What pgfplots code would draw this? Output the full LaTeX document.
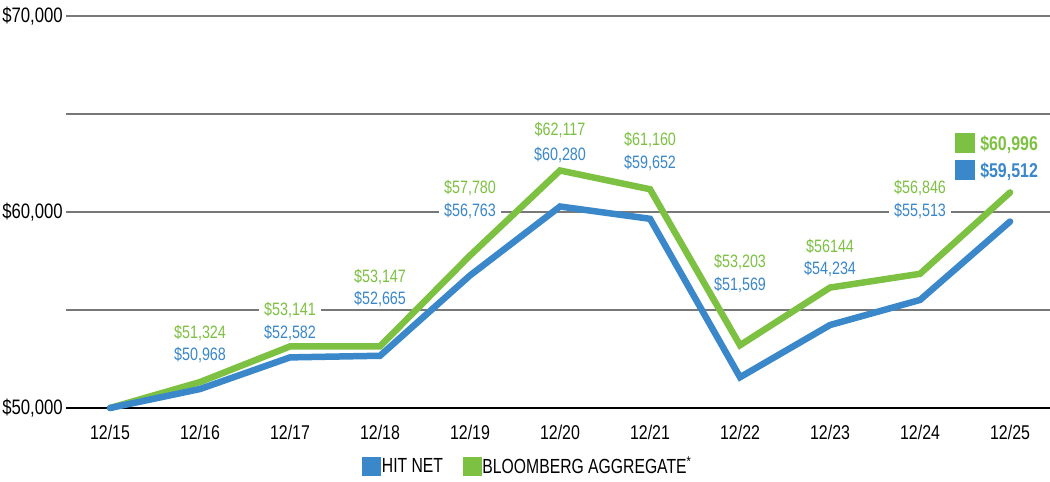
\documentclass[border=0pt]{standalone}
\usepackage{pgfplots}
\pgfplotsset{compat=1.18}
\usepackage{fontspec}
\setmainfont[FakeStretch=0.8]{Liberation Sans}
\newfontfamily\legfont[FakeStretch=0.77]{Liberation Sans}
\definecolor{cgreen}{RGB}{125,193,66}
\definecolor{cblue}{RGB}{58,135,201}
\definecolor{cgrid}{RGB}{120,120,120}
\begin{document}
\begin{tikzpicture}
\useasboundingbox (0,0) rectangle (1050bp,482bp);
\begin{axis}[
  at={(66bp,74bp)}, anchor=south west,
  scale only axis, width=984bp, height=392bp,
  xmin=-0.489, xmax=10.444, ymin=50000, ymax=70000,
  scaled y ticks=false,
  clip=false,
  axis line style={draw=none},
  major tick length=0pt, minor tick length=0pt,
  tick style={draw=none},
  xtick={0,...,10},
  xticklabels={12/15,12/16,12/17,12/18,12/19,12/20,12/21,12/22,12/23,12/24,12/25},
  ytick={50000,60000,70000},
  yticklabels={{\$50,000},{\$60,000},{\$70,000}},
  minor ytick={55000,65000},
  ymajorgrids, yminorgrids,
  major grid style={cgrid, line width=1.8bp},
  minor grid style={cgrid, line width=1.8bp},
  yticklabel style={font=\fontsize{21}{21}\selectfont, anchor=east, inner sep=0pt, xshift=-3bp},
  xticklabel style={font=\fontsize{20}{20}\selectfont, anchor=north, inner sep=0pt, yshift=-17bp},
  legend columns=2,
  legend style={at={(0.469,-0.148)}, anchor=center, draw=none, fill=none,
    font=\legfont\fontsize{20.5}{20.5}\selectfont,
    /tikz/every even column/.append style={column sep=18bp},
    nodes={inner sep=1.5bp}},
  legend image code/.code={\fill[#1] (0bp,-9bp) rectangle (18bp,9bp);},
]
\draw[black, line width=2bp] (axis cs:-0.489,50000) -- (axis cs:10.444,50000);
\addlegendimage{cblue, fill=cblue}
\addlegendentry{HIT NET}
\addlegendimage{cgreen, fill=cgreen}
\addlegendentry{BLOOMBERG AGGREGATE\textsuperscript{*}}
\begin{scope}[every node/.style={font=\fontsize{18}{18}\selectfont, inner xsep=5bp, inner ysep=1bp, fill=white}]
\node[text=cgreen] at (axis cs:1,53827) {\$51,324};
\node[text=cblue]  at (axis cs:1,52704) {\$50,968};
\node[text=cgreen] at (axis cs:2,55000) {\$53,141};
\node[text=cblue]  at (axis cs:2,53827) {\$52,582};
\node[text=cgreen] at (axis cs:3,56684) {\$53,147};
\node[text=cblue]  at (axis cs:3,55561) {\$52,665};
\node[text=cgreen] at (axis cs:4,61224) {\$57,780};
\node[text=cblue]  at (axis cs:4,60051) {\$56,763};
\node[text=cgreen] at (axis cs:5,64184) {\$62,117};
\node[text=cblue]  at (axis cs:5,62908) {\$60,280};
\node[text=cgreen] at (axis cs:6,63673) {\$61,160};
\node[text=cblue]  at (axis cs:6,62500) {\$59,652};
\node[text=cgreen] at (axis cs:7,57449) {\$53,203};
\node[text=cblue]  at (axis cs:7,56276) {\$51,569};
\node[text=cgreen] at (axis cs:8,58265) {\$56144};
\node[text=cblue]  at (axis cs:8,57092) {\$54,234};
\node[text=cgreen] at (axis cs:9,61224) {\$56,846};
\node[text=cblue]  at (axis cs:9,60051) {\$55,513};
\end{scope}
\addplot[cgreen, line width=6.5bp, line cap=round, line join=miter, forget plot] coordinates {
 (0,50000) (1,51324) (2,53141) (3,53147) (4,57780) (5,62117) (6,61160) (7,53203) (8,56144) (9,56846) (10,60996)};
\addplot[cblue, line width=6.5bp, line cap=round, line join=miter, forget plot] coordinates {
 (0,50000) (1,50968) (2,52582) (3,52665) (4,56763) (5,60280) (6,59652) (7,51569) (8,54234) (9,55513) (10,59512)};
\begin{scope}[every node/.style={font=\bfseries\fontsize{20}{20}\selectfont, inner sep=0pt, anchor=west}]
\node[text=cgreen] at (axis cs:9.389,63520) {\rule[-2.8bp]{20bp}{20bp}\hspace{5bp}\$60,996};
\node[text=cblue]  at (axis cs:9.389,62143) {\rule[-2.8bp]{20bp}{20bp}\hspace{5bp}\$59,512};
\end{scope}
\end{axis}
\end{tikzpicture}
\end{document}
